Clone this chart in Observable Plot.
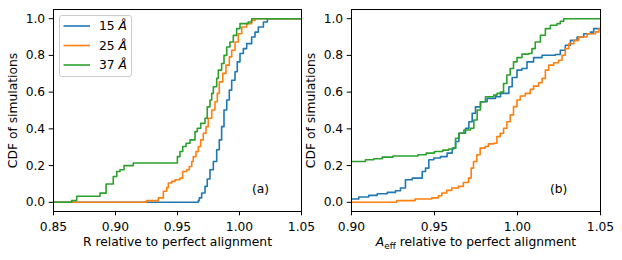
<!DOCTYPE html>
<html><head><meta charset="utf-8">
<script src="https://cdn.jsdelivr.net/npm/d3@7"></script>
<script src="https://cdn.jsdelivr.net/npm/@observablehq/plot@0.6"></script>
<style>
html,body{margin:0;padding:0;background:#fff;}
#wrap{position:relative;width:622px;height:260px;}
#wrap svg{position:absolute;left:0;top:0;background:transparent;overflow:visible;}
</style></head><body><div id="wrap"></div>
<script>
// ---- data ----
const seriesNames = ["15", "25", "37"];
const colors = ["#1f77b4", "#ff7f0e", "#2ca02c"];
const yTicks = [0, 0.2, 0.4, 0.6, 0.8, 1.0];
const xTicksA = [0.85, 0.90, 0.95, 1.00, 1.05];
const xTicksB = [0.90, 0.95, 1.00, 1.05];
const yLabel = "CDF of simulations";
const xLabelA = "R relative to perfect alignment";
const xLabelB = "Aeff relative to perfect alignment";
const tags = ["(a)", "(b)"];

// Panel (a): R ratio, empirical CDF step points
const a15x = [0.85,0.9668,0.9676,0.9695,0.9722,0.974,0.9762,0.9789,0.9816,0.9837,0.9856,0.9875,0.9897,0.9918,0.9937,0.9964,0.9982,1.0004,1.0031,1.0058,1.0098,1.0125,1.0152,1.0193,1.0225,1.05];
const a15y = [0,0.009,0.024,0.051,0.087,0.127,0.177,0.222,0.286,0.34,0.412,0.503,0.557,0.611,0.665,0.711,0.765,0.81,0.837,0.864,0.9,0.927,0.955,0.982,1.0,1.0];
const a25x = [0.85,0.925,0.9345,0.9386,0.9413,0.9426,0.9453,0.948,0.952,0.9542,0.9574,0.9595,0.9615,0.9627,0.9649,0.9668,0.9687,0.9708,0.973,0.9748,0.9776,0.9802,0.9821,0.9837,0.9865,0.9891,0.9918,0.9937,0.9964,0.999,1.0018,1.0058,1.0098,1.0125,1.05];
const a25y = [0,0.009,0.024,0.06,0.08,0.105,0.114,0.123,0.132,0.168,0.177,0.195,0.222,0.249,0.277,0.304,0.34,0.376,0.412,0.458,0.503,0.548,0.593,0.656,0.702,0.747,0.792,0.828,0.873,0.918,0.955,0.973,0.991,1.0,1.0];
const a37x = [0.85,0.8647,0.8687,0.8875,0.8924,0.8982,0.901,0.9036,0.9069,0.9144,0.9499,0.952,0.9542,0.9569,0.9601,0.9641,0.966,0.9687,0.9722,0.974,0.9762,0.9776,0.9789,0.9816,0.9829,0.9856,0.9875,0.9897,0.9923,0.995,0.9977,1.0004,1.007,1.0098,1.05];
const a37y = [0,0.01,0.033,0.05,0.10,0.141,0.168,0.177,0.2,0.214,0.249,0.277,0.304,0.322,0.34,0.385,0.403,0.43,0.458,0.52,0.557,0.593,0.629,0.675,0.72,0.756,0.80,0.846,0.873,0.909,0.946,0.973,0.982,1.0,1.0];

// Panel (b): Aeff ratio
const b15x = [0.9,0.9044,0.9104,0.9155,0.9215,0.9265,0.9295,0.9325,0.9366,0.9426,0.9446,0.9466,0.9496,0.9536,0.9576,0.9607,0.9627,0.9647,0.9687,0.9707,0.9727,0.9747,0.9777,0.9817,0.9867,0.9898,0.9948,0.9968,0.9997,1.0027,1.0057,1.0097,1.0148,1.0228,1.0258,1.0288,1.0319,1.0359,1.0399,1.044,1.0459,1.05];
const b15y = [0.018,0.029,0.038,0.047,0.054,0.063,0.078,0.123,0.132,0.168,0.186,0.232,0.241,0.249,0.268,0.295,0.331,0.376,0.403,0.439,0.485,0.52,0.548,0.566,0.575,0.593,0.629,0.68,0.72,0.729,0.765,0.788,0.801,0.805,0.828,0.855,0.882,0.9,0.918,0.927,0.946,0.946];
const b25x = [0.9,0.9272,0.9383,0.9483,0.9523,0.9544,0.9574,0.9604,0.9644,0.9674,0.9705,0.9721,0.9735,0.9755,0.9775,0.9805,0.9825,0.9856,0.9876,0.9896,0.9916,0.9936,0.9956,0.9976,0.9997,1.0017,1.0047,1.0077,1.0097,1.0127,1.0148,1.0168,1.0188,1.0218,1.0248,1.0268,1.0288,1.0309,1.0339,1.0369,1.0419,1.047,1.049,1.05];
const b25y = [0,0.009,0.018,0.024,0.036,0.051,0.065,0.078,0.087,0.108,0.132,0.186,0.222,0.259,0.295,0.304,0.318,0.322,0.358,0.376,0.403,0.439,0.476,0.521,0.557,0.579,0.593,0.615,0.633,0.651,0.675,0.72,0.747,0.76,0.774,0.801,0.837,0.864,0.882,0.9,0.918,0.928,0.946,0.946];
const b37x = [0.9,0.9084,0.9134,0.9185,0.925,0.94,0.945,0.95,0.955,0.9585,0.9616,0.9627,0.9647,0.9677,0.9717,0.9737,0.9757,0.9777,0.9807,0.9857,0.9877,0.9897,0.9916,0.9936,0.9956,0.9976,0.9997,1.0027,1.0067,1.0087,1.0107,1.0138,1.0168,1.0198,1.0238,1.0258,1.0278,1.05];
const b37y = [0.222,0.232,0.237,0.246,0.252,0.259,0.268,0.277,0.284,0.29,0.295,0.349,0.376,0.394,0.403,0.448,0.503,0.548,0.575,0.584,0.593,0.6,0.647,0.693,0.729,0.765,0.788,0.807,0.81,0.837,0.873,0.91,0.946,0.964,0.973,0.986,1.0,1.0];

// ---- drawing ----
const FONT = "DejaVu Sans";
const FS = 12.3;
const toRows = (xs, ys) => xs.map((x, i) => ({x, y: ys[i]}));

function panel(opts) {
  const {xDomain, xTicks, series, xLabel, tag, marginLeft, marginRight} = opts;
  return Plot.plot({
    width: 622, height: 260,
    marginLeft, marginRight, marginTop: 9, marginBottom: 49,
    style: {fontFamily: FONT, fontSize: FS + "px", background: "transparent", color: "black", overflow: "visible"},
    x: {domain: xDomain, label: null},
    y: {domain: [-0.05, 1.05], label: null},
    marks: [
      Plot.axisX({ticks: xTicks, tickFormat: d3.format(".2f"), tickSize: 4.3, tickPadding: 6.5, label: null, fontSize: FS}),
      Plot.axisY({ticks: yTicks, tickFormat: d3.format(".1f"), tickSize: 4.3, tickPadding: 4, label: null, fontSize: FS}),
      ...series.map((s, i) => Plot.line(toRows(s[0], s[1]), {x: "x", y: "y", stroke: colors[i], strokeWidth: 1.6, curve: "step-after", clip: true})),
      Plot.frame({stroke: "black", strokeWidth: 1}),
      Plot.text([tag], {frameAnchor: "bottom-left", dx: 198.5, dy: -22.5, textAnchor: "start", lineAnchor: "middle", fontSize: FS}),
      Plot.text([xLabel], {frameAnchor: "bottom", dy: 30.5, textAnchor: "middle", lineAnchor: "middle", fontSize: FS}),
      Plot.text([yLabel], {frameAnchor: "left", rotate: -90, dx: -40, textAnchor: "middle", lineAnchor: "middle", fontSize: FS})
    ]
  });
}

const wrap = document.getElementById("wrap");
const svgA = panel({xDomain: [0.85, 1.05], xTicks: xTicksA, series: [[a15x,a15y],[a25x,a25y],[a37x,a37y]], xLabel: xLabelA, tag: tags[0], marginLeft: 53, marginRight: 321});
const svgB = panel({xDomain: [0.90, 1.05], xTicks: xTicksB, series: [[b15x,b15y],[b25x,b25y],[b37x,b37y]], xLabel: xLabelB, tag: tags[1], marginLeft: 351, marginRight: 22});
wrap.appendChild(svgA);
wrap.appendChild(svgB);

// mathtext-like label: italic A with roman subscript "eff"
for (const t of svgB.querySelectorAll("text")) {
  if (t.textContent === xLabelB) {
    const sel = d3.select(t);
    sel.text(null);
    sel.append("tspan").attr("font-style", "italic").text("A");
    sel.append("tspan").attr("font-size", 8.8).attr("dy", 2.6).text("eff");
    sel.append("tspan").attr("dy", -2.6).text(" relative to perfect alignment");
  }
}

// legend (upper left of panel a)
const lg = d3.select(svgA).append("g").attr("font-family", FONT).attr("font-size", FS).attr("text-anchor", "start");
lg.append("rect").attr("x", 59.5).attr("y", 15.5).attr("width", 72).attr("height", 61).attr("rx", 2.5)
  .attr("fill", "white").attr("fill-opacity", 0.8).attr("stroke", "#cccccc").attr("stroke-width", 1);
seriesNames.forEach((n, i) => {
  const y = 26 + i * 19.5;
  lg.append("line").attr("x1", 63.5).attr("x2", 90).attr("y1", y).attr("y2", y).attr("stroke", colors[i]).attr("stroke-width", 1.6);
  const t = lg.append("text").attr("x", 99).attr("y", y + 4.4).attr("fill", "black").attr("text-anchor", "start");
  t.append("tspan").text(n + " ");
  t.append("tspan").attr("font-style", "italic").text("Å");
});
</script>
</body></html>
